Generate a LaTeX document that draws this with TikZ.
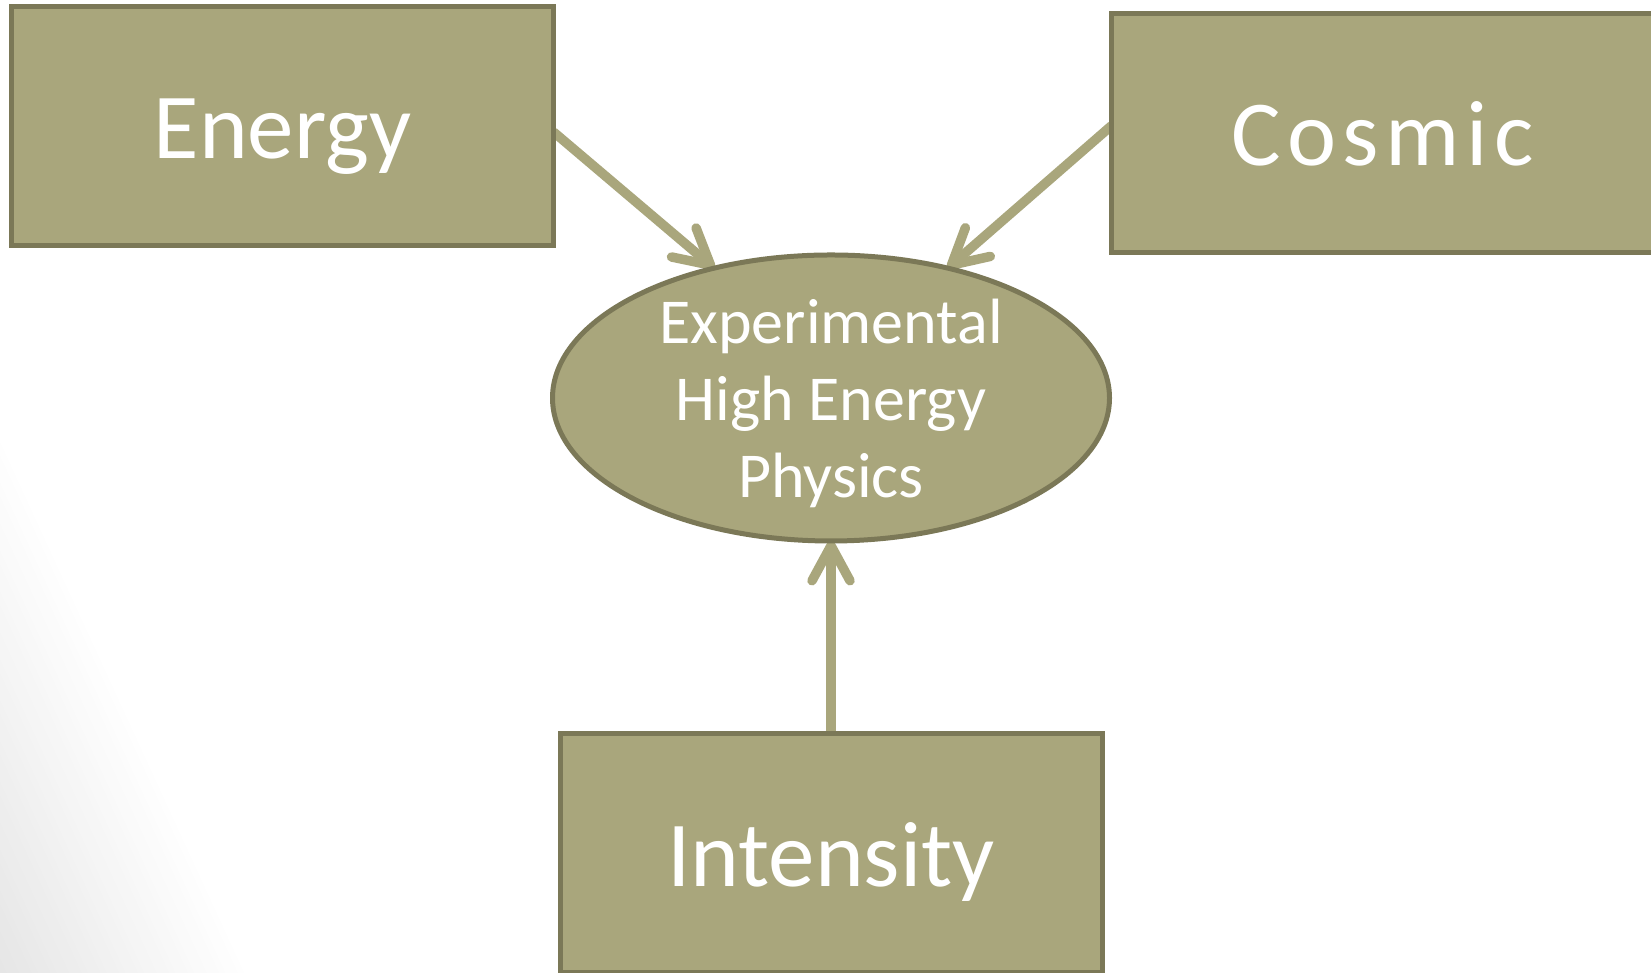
\documentclass[tikz,border=0pt]{standalone}
\usepackage{fontspec}
\setmainfont{Carlito}
\usetikzlibrary{arrows.meta,shapes.geometric,calc}
\pgfdeclarelayer{background}
\pgfsetlayers{background,main}
\definecolor{olivefill}{HTML}{A9A67C}
\definecolor{oliveline}{HTML}{7B7857}
\tikzset{
  olivebox/.style={draw=oliveline, fill=olivefill, line width=5pt, rectangle,
    minimum width=542pt, minimum height=239pt, inner sep=0pt, outer sep=0pt,
    text=white, font=\fontsize{93}{110}\selectfont,
    text height=66pt, text depth=0pt},
  oliveoval/.style={draw=oliveline, fill=olivefill, line width=5pt, ellipse,
    minimum width=557pt, minimum height=286pt, inner sep=0pt, outer sep=0pt,
    text=white, font=\fontsize{64}{77}\selectfont},
  link/.style={draw=olivefill, line width=9.5pt,
    -{Straight Barb[length=35pt,width=38pt,round]}}
}
\begin{document}
\begin{tikzpicture}[x=1pt,y=1pt]
\useasboundingbox (0,0) rectangle (1651,973);
\begin{pgfonlayer}{background}
\begin{scope}
\clip (0,0) rectangle (1651,973);
\fill[white] (0,0) rectangle (1651,973);
\foreach \i in {40,39,...,1} {
  \pgfmathsetmacro\dd{227*\i/40}
  \pgfmathsetmacro\cc{10*(1-(\i-0.5)/40)}
  \fill[black!\cc] (0,0) -- (\dd/0.9085,0) -- (0,\dd/0.4178) -- cycle;
}
\end{scope}
\end{pgfonlayer}
\node[olivebox] (energy) at (282.5,847) {Energy};
\node[olivebox] (cosmic) at (1382.5,840.3) {C\kern6.4pt o\kern6.4pt s\kern6.4pt m\kern6.4pt i\kern6.4pt c};
\node[olivebox] (intensity) at (831,119.5) {Intensity};
\node[oliveoval] (hep) at (831,575) {\smash{\raisebox{-99.5pt}{\begin{tabular}[b]{@{}c@{}}Experimental\\High Energy\\Physics\end{tabular}}}};
\begin{pgfonlayer}{background}
\draw[link] ($(energy.east)+(0,-6)$) -- (hep.132);
\draw[link] ($(cosmic.west)+(0,7)$) -- (hep.48.5);
\draw[link] (intensity.north) -- (hep.south);
\end{pgfonlayer}
\end{tikzpicture}
\end{document}
